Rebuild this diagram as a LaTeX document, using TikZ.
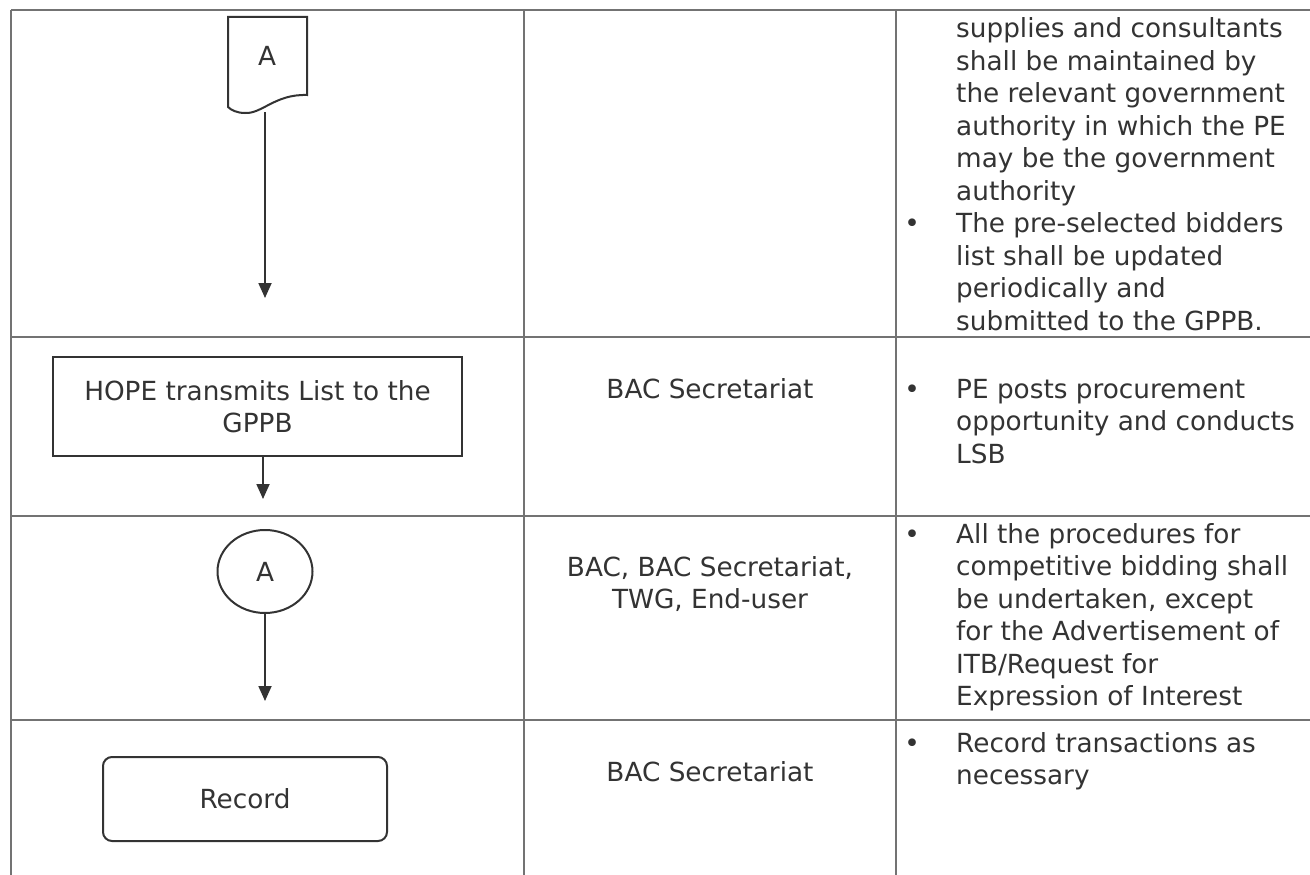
\documentclass[tikz,border=0pt]{standalone}
\usepackage{fontspec}
\setmainfont{DejaVu Sans}
\usetikzlibrary{arrows.meta,shapes.geometric}
\definecolor{ink}{gray}{0.2}
\definecolor{rulec}{gray}{0.45}
\begin{document}
\begin{tikzpicture}[x=1pt,y=-1pt,
  txt/.style={font=\fontsize{26.3}{32.5}\selectfont, text=ink, inner sep=0pt},
  gridline/.style={draw=rulec, line width=1.3pt},
  shp/.style={draw=ink, line width=2pt},
  flow/.style={draw=ink, line width=1.8pt, -{Triangle[length=15pt,width=13pt]}}]
\useasboundingbox (0,0) rectangle (1310,875);
\fill[white] (0,0) rectangle (1310,875);
% table grid
\draw[gridline] (11,10) -- (1310,10);
\draw[gridline] (11,337) -- (1310,337);
\draw[gridline] (11,516) -- (1310,516);
\draw[gridline] (11,720) -- (1310,720);
\draw[gridline] (11,10) -- (11,875);
\draw[gridline] (524,10) -- (524,875);
\draw[gridline] (896,10) -- (896,875);
% row 1: off-page connector (document shape)
\draw[shp] (228,17) -- (307,17) -- (307,95) .. controls (275,94) and (262,114) .. (245,113) .. controls (237,113) and (231,110) .. (228,107) -- cycle;
\node[txt, anchor=base] (docA) at (267,66) {A};
\coordinate (docBot) at (265,112);
\coordinate (end1) at (265,298);
\draw[flow] (docBot) -- (end1);
% row 2
\node[shp, txt, minimum width=409pt, minimum height=99pt, align=center] (hope) at (257.5,406.5) {HOPE transmits List to the\\GPPB};
\coordinate (end2) at (263,499);
\draw[flow] ([xshift=5.5pt]hope.south) -- (end2);
% row 3
\node[shp, txt, ellipse, inner sep=0pt, minimum width=95pt, minimum height=83pt] (conA) at (265,571.5) {A};
\coordinate (end3) at (265,701);
\draw[flow] (conA.south) -- (end3);
% row 4
\node[shp, txt, rounded corners=9pt, minimum width=284pt, minimum height=84pt] (rec) at (245,799) {Record};
% middle column
\node[txt, anchor=base] (m2) at (710,398) {BAC Secretariat};
\node[txt, anchor=base, align=center] (m3) at (710,608.5) {BAC, BAC Secretariat,\\TWG, End-user};
\node[txt, anchor=base] (m4) at (710,781) {BAC Secretariat};
% right column (base anchor = baseline of last line)
\node[txt, anchor=base west, align=left] (r1) at (956,330) {supplies and consultants\\shall be maintained by\\the relevant government\\authority in which the PE\\may be the government\\authority\\The pre-selected bidders\\list shall be updated\\periodically and\\submitted to the GPPB.};
\node[txt, anchor=base] (b1) at (912,232.5) {•};
\node[txt, anchor=base] (b2) at (912,398) {•};
\node[txt, anchor=base west, align=left] (r2) at (956,463) {PE posts procurement\\opportunity and conducts\\LSB};
\node[txt, anchor=base] (b3) at (912,543) {•};
\node[txt, anchor=base west, align=left] (r3) at (956,705.5) {All the procedures for\\competitive bidding shall\\be undertaken, except\\for the Advertisement of\\ITB/Request for\\Expression of Interest};
\node[txt, anchor=base] (b4) at (912,752) {•};
\node[txt, anchor=base west, align=left] (r4) at (956,784.5) {Record transactions as\\necessary};
\end{tikzpicture}
\end{document}
